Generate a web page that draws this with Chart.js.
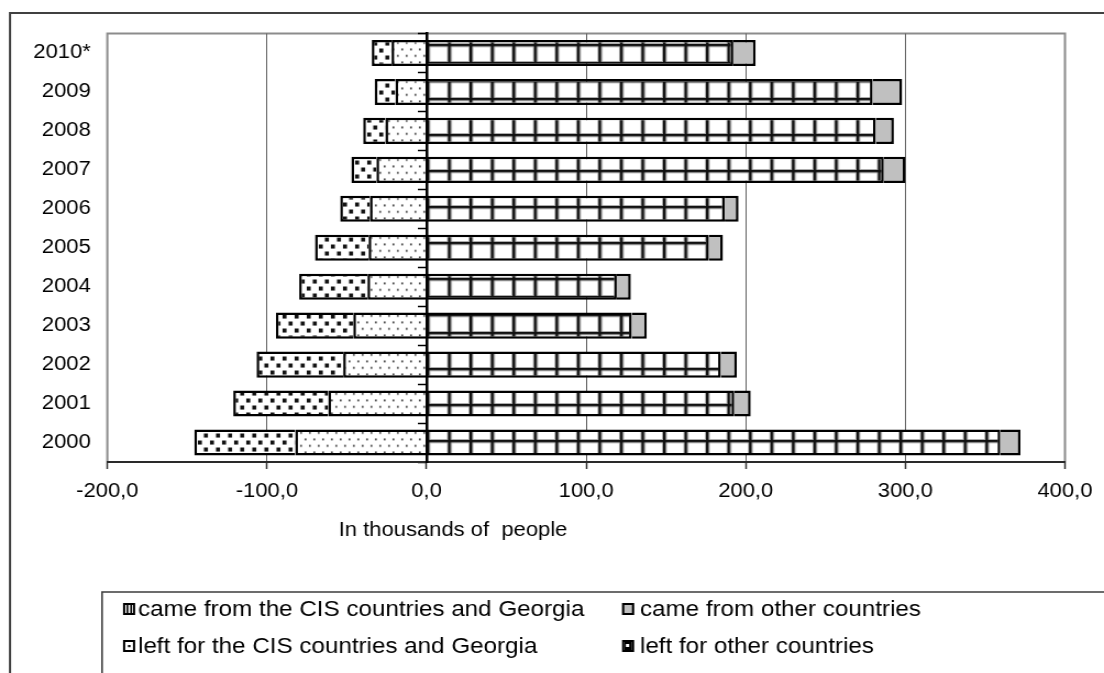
<!DOCTYPE html>
<html>
<head>
<meta charset="utf-8">
<title>Migration, 2000–2010</title>
<script src="https://cdn.jsdelivr.net/npm/chart.js@4.4.1/dist/chart.umd.min.js"></script>
<style>
  html, body { margin: 0; padding: 0; background: #fff; overflow: hidden; }
  #wrap { width: 1104px; height: 673px; overflow: hidden; }
  /* the drawing is laid out on a 1004px-wide canvas and widened to the page width */
  #c { display: block; transform-origin: 0 0; transform: scaleX(1.0996); }
</style>
</head>
<body>
<div id="wrap"><canvas id="c" width="1004" height="673" style="width:1004px;height:673px"></canvas></div>
<script>
// Years, bottom to top
const years = ['2000', '2001', '2002', '2003', '2004', '2005', '2006', '2007', '2008', '2009', '2010*'];

// Thousands of people
const cameCIS   = [359.5, 192.8, 184.4, 128.6, 119.2, 176.9, 186.8, 286.5, 281.5, 279.5, 192.2];
const cameOther = [ 12.6,  10.3,  10.0,   9.4,   8.8,   8.8,   8.7,  13.5,  11.3,  18.5,  14.0];
const leftCIS   = [-82.3, -61.6, -52.2, -45.9, -37.0, -36.3, -35.5, -31.4, -25.8, -19.5, -21.9];
const leftOther = [-63.2, -59.5, -54.3, -48.5, -42.8, -33.6, -18.6, -15.7, -13.9, -13.0, -12.4];

const seriesNames = [
  'came from the CIS countries and Georgia',
  'came from other countries',
  'left for the CIS countries and Georgia',
  'left for other countries'
];
const xTicks = [-200, -100, 0, 100, 200, 300, 400];
const xTitle = 'In thousands of  people';

const FONT = "'Liberation Sans', Arial, sans-serif";
Chart.defaults.font.family = FONT;
Chart.defaults.color = '#000';

const canvas = document.getElementById('c');
const ctx = canvas.getContext('2d');

// ---- fill patterns -------------------------------------------------------
function makeTile(w, h, draw) {
  const t = document.createElement('canvas');
  t.width = w; t.height = h;
  const g = t.getContext('2d');
  g.fillStyle = '#fff';
  g.fillRect(0, 0, w, h);
  draw(g, w, h);
  return ctx.createPattern(t, 'repeat');
}

// open grid of heavy lines
const gridFill = makeTile(20, 20, (g, w, h) => {
  g.fillStyle = '#a8a8a8';
  g.fillRect(2.5, 0, 1, h); g.fillRect(w - 1, 0, 1, h);
  g.fillRect(0, 2.5, w, 1); g.fillRect(0, h - 1, w, 1);
  g.fillStyle = '#111';
  g.fillRect(0, 0, 2.5, h);
  g.fillRect(0, 0, w, 2.5);
});

// sparse small dots
const dotFill = makeTile(8, 13, (g) => {
  g.fillStyle = '#333';
  g.fillRect(1, 2, 1.7, 1.7);
  g.fillRect(5, 8.5, 1.7, 1.7);
});

// scattered dark squares
const confettiFill = makeTile(11, 14, (g) => {
  g.fillStyle = '#111';
  g.fillRect(1, 1, 3.6, 4);
  g.fillRect(6.5, 8, 3.6, 4);
});

// ---- plugins ---------------------------------------------------------------
const frame = {
  id: 'frame',
  beforeDraw(chart, args, o) {
    const { ctx: c, chartArea: a } = chart;
    c.save();
    c.strokeStyle = '#404040';
    c.lineWidth = 2;
    c.beginPath();
    c.moveTo(o.left, chart.height + 5);
    c.lineTo(o.left, o.top);
    c.lineTo(chart.width + 5, o.top);
    c.stroke();
    c.strokeStyle = '#8c8c8c';
    c.lineWidth = 2;
    c.strokeRect(a.left, a.top, a.right - a.left, a.bottom - a.top);
    c.restore();
  }
};

const anchorPatterns = {
  id: 'anchorPatterns',
  beforeDatasetsDraw(chart) {
    const x0 = chart.scales.x.getPixelForValue(0);
    const y0 = chart.chartArea.top;
    gridFill.setTransform(new DOMMatrix([0.9775, 0, 0, 0.9, x0, y0 + 10.5]));
    dotFill.setTransform(new DOMMatrix([1, 0, 0, 1, x0, y0]));
    confettiFill.setTransform(new DOMMatrix([1, 0, 0, 1, x0, y0]));
  }
};

const axisCaption = {
  id: 'axisCaption',
  afterDraw(chart, args, o) {
    const c = chart.ctx;
    c.save();
    c.font = o.size + 'px ' + FONT;
    c.fillStyle = '#000';
    c.textAlign = 'center';
    c.textBaseline = 'middle';
    c.fillText(o.text, o.x, o.y);
    c.restore();
  }
};

function drawKey(c, i, x, y, w, h) {
  c.fillStyle = i === 1 ? '#c0c0c0' : '#fff';
  c.fillRect(x, y, w, h);
  c.fillStyle = '#000';
  if (i === 0) {
    c.fillRect(x + w / 3 - 0.5, y, 1.6, h);
    c.fillRect(x + 2 * w / 3 - 0.8, y, 1.6, h);
  } else if (i === 2) {
    c.fillRect(x + w / 2 - 1, y + h / 2 - 1, 2.2, 2.2);
  } else if (i === 3) {
    c.fillRect(x + 2, y + 2, w - 4, h - 4);
    c.fillStyle = '#fff';
    c.fillRect(x + w / 2 - 2, y + h / 2 - 2, 3, 3);
  }
  c.strokeStyle = '#000';
  c.lineWidth = 2;
  c.strokeRect(x + 1, y + 1, w - 2, h - 2);
}

const gridLegend = {
  id: 'gridLegend',
  afterDraw(chart, args, o) {
    const c = chart.ctx;
    c.save();
    c.strokeStyle = '#3c3c3c';
    c.lineWidth = 1.6;
    c.beginPath();
    c.moveTo(o.left, chart.height + 5);
    c.lineTo(o.left, o.top);
    c.lineTo(chart.width + 5, o.top);
    c.stroke();
    c.font = o.size + 'px ' + FONT;
    c.textBaseline = 'middle';
    c.textAlign = 'left';
    chart.data.datasets.forEach((ds, i) => {
      const col = i % 2, row = Math.floor(i / 2);
      const y = o.rows[row];
      drawKey(c, i, o.keyX[col], y - o.keyH / 2, o.keyW, o.keyH);
      c.fillStyle = '#000';
      c.fillText(ds.label, o.textX[col], y + 1);
    });
    c.restore();
  }
};

// ---- chart -------------------------------------------------------------------
const barStyle = { borderColor: '#000', borderWidth: 2.5, xAxisID: 'x', yAxisID: 'y' };

new Chart(ctx, {
  type: 'bar',
  data: {
    labels: years,
    datasets: [
      { ...barStyle, label: seriesNames[0], data: cameCIS,   backgroundColor: gridFill },
      { ...barStyle, label: seriesNames[1], data: cameOther, backgroundColor: '#c0c0c0' },
      { ...barStyle, label: seriesNames[2], data: leftCIS,   backgroundColor: dotFill },
      { ...barStyle, label: seriesNames[3], data: leftOther, backgroundColor: confettiFill }
    ]
  },
  options: {
    indexAxis: 'y',
    responsive: false,
    animation: false,
    devicePixelRatio: 1,
    barPercentage: 0.67,
    categoryPercentage: 1,
    layout: { padding: { left: 0, top: 33.5, right: 35.5, bottom: 0 } },
    plugins: {
      legend: { display: false },
      tooltip: { enabled: false },
      frame: { left: 9.1, top: 13 },
      axisCaption: { text: xTitle, x: 412, y: 530, size: 20 },
      gridLegend: {
        left: 92.8, top: 592, size: 22,
        rows: [609, 646],
        keyX: [111.9, 565.7], keyW: 11, keyH: 12,
        textX: [125.5, 582]
      }
    },
    scales: {
      x: {
        type: 'linear',
        stacked: true,
        min: -200,
        max: 400,
        afterBuildTicks: (s) => { s.ticks = xTicks.map(v => ({ value: v })); },
        afterFit: (s) => { s.height = 673 - 462; },
        ticks: {
          font: { size: 20 },
          color: '#000',
          padding: 10,
          maxRotation: 0,
          autoSkip: false,
          callback: (v) => Number(v).toFixed(1).replace('.', ',')
        },
        grid: {
          color: (c) => (c.tick && [-200, 0, 400].includes(c.tick.value)) ? 'rgba(0,0,0,0)' : '#5e5e5e',
          lineWidth: 1,
          drawTicks: true,
          tickLength: 7,
          tickColor: '#333',
          tickWidth: 1.5
        },
        border: { color: '#2a2a2a', width: 2 }
      },
      y: {
        type: 'category',
        stacked: true,
        reverse: true,
        offset: true,
        afterFit: (s) => { s.width = 97.6; },
        grid: { display: false, drawTicks: false },
        border: { display: false },
        ticks: { font: { size: 20 }, color: '#000', padding: 15 }
      },
      yZero: {
        type: 'category',
        axis: 'y',
        position: { x: 0 },
        reverse: true,
        offset: true,
        ticks: { display: false },
        grid: {
          offset: true,
          drawOnChartArea: false,
          drawTicks: true,
          tickLength: 7,
          color: '#000',
          tickColor: '#000',
          tickWidth: 1.5
        },
        border: { display: true, color: '#000', width: 2.5, z: 1 }
      }
    }
  },
  plugins: [frame, anchorPatterns, axisCaption, gridLegend]
});
</script>
</body>
</html>
